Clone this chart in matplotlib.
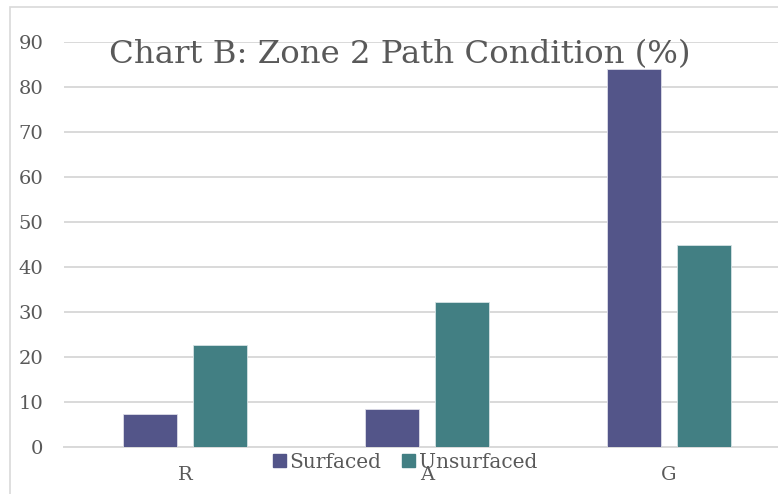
import matplotlib
matplotlib.use('Agg')
import matplotlib.pyplot as plt
import matplotlib.patches as mpatches
import numpy as np

categories = ['R', 'A', 'G']
surfaced = [7.3, 8.4, 84.0]
unsurfaced = [22.7, 32.2, 44.9]
yticks = [0, 10, 20, 30, 40, 50, 60, 70, 80, 90]

c_surf = '#535589'
c_unsurf = '#427F83'
txt = '#595959'
grid_c = '#D9D9D9'

plt.rcParams['font.family'] = ['DejaVu Serif']

W, H = 778, 494
fig = plt.figure(figsize=(W / 100, H / 100), dpi=100)
ax = fig.add_axes([64 / W, 47 / H, (790 - 64) / W, 405 / H])

x = np.arange(len(categories))
bw = 0.223
off = 0.143
ax.bar(x - off, surfaced, bw, color=c_surf, edgecolor='#DDDDE8', linewidth=0.6,
       label='Surfaced', zorder=3)
ax.bar(x + off, unsurfaced, bw, color=c_unsurf, edgecolor='#D5E3E4', linewidth=0.6,
       label='Unsurfaced', zorder=3)

ax.set_xlim(-0.5, 2.5)
ax.set_ylim(0, 90)
ax.set_yticks(yticks)
ax.set_xticks(x)
ax.set_xticklabels(categories)
ax.yaxis.grid(True, color=grid_c, linewidth=1.4, zorder=0)
ax.set_axisbelow(True)
for s in ['top', 'right', 'left']:
    ax.spines[s].set_visible(False)
ax.spines['bottom'].set_color(grid_c)
ax.spines['bottom'].set_linewidth(1.4)
ax.tick_params(axis='both', length=0, labelsize=14, colors=txt)
ax.tick_params(axis='y', pad=15)
ax.tick_params(axis='x', pad=14)

fig.text(400 / W, 1 - 63 / H, 'Chart B: Zone 2 Path Condition (%)', ha='center',
         va='baseline', fontsize=23.3, color=txt)

handles = [mpatches.Patch(color=c_surf, label='Surfaced'),
           mpatches.Patch(color=c_unsurf, label='Unsurfaced')]
fig.legend(handles=handles, loc='center', bbox_to_anchor=(405 / W, 1 - 462 / H),
           ncol=2, frameon=False, fontsize=14.5, labelcolor=txt, handlelength=0.65,
           handleheight=0.65, handletextpad=0.2, columnspacing=1.0, borderpad=0)

# chart frame (only the top and left edges fall inside the picture)
fig.patches.append(mpatches.Rectangle((10 / W, -0.1), 1.1, 1.1 - 7 / H,
                                      transform=fig.transFigure, fill=False,
                                      edgecolor=grid_c, linewidth=1.2))

fig.savefig('out.png', dpi=100)
